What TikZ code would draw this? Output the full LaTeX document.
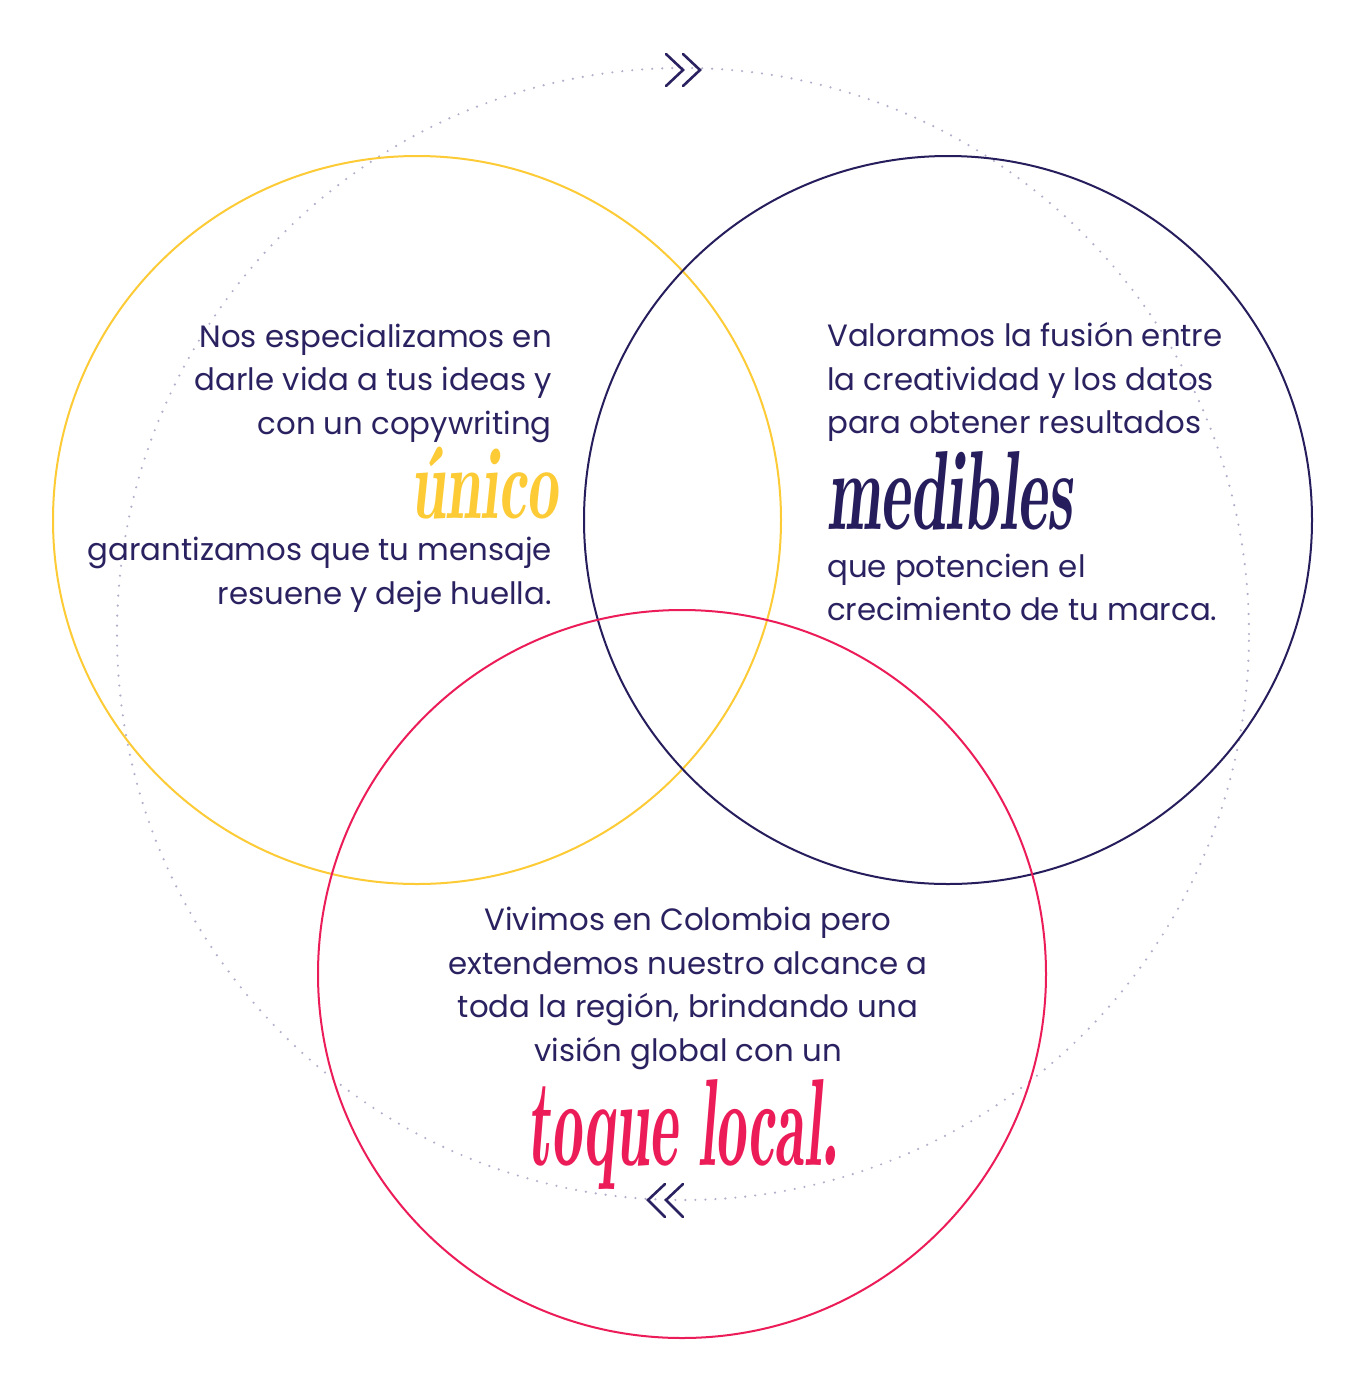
\documentclass[tikz,border=0pt]{standalone}
\usepackage{fontspec}
\usepackage{graphicx}
\newfontfamily\bodyfont{Poppins}
\definecolor{ink}{HTML}{2A2260}
\definecolor{navy}{HTML}{261D5C}
\definecolor{sun}{HTML}{FDCB36}
\definecolor{rose}{HTML}{EC1C58}
\definecolor{dotc}{HTML}{B2AECB}
\newcommand{\brush}[1]{{\fontfamily{lmr}\fontseries{b}\fontshape{it}\selectfont #1}}
\begin{document}
\begin{tikzpicture}[x=1pt,y=-1pt]
\tikzset{
  ring/.style={circle, draw, line width=2pt, minimum size=728pt, inner sep=0pt},
  bodytext/.style={font=\bodyfont\fontsize{30.8}{36}\selectfont, text=ink, inner sep=0pt},
  chev/.style={draw=ink, line width=2.6pt, line cap=round, line join=miter},
  orbitstyle/.style={circle, draw=dotc, line width=2.4pt, dash pattern=on 0pt off 10pt, line cap=round, minimum size=1132pt, inner sep=0pt}
}
\useasboundingbox (0,0) rectangle (1361,1379);
\fill[white] (0,0) rectangle (1361,1379);

\node[orbitstyle] (orbit) at (683,634) {};

\node[ring, draw=sun]  (yel)  at (417,520) {};
\node[ring, draw=navy] (nav)  at (948,520) {};
\node[ring, draw=rose] (pnk)  at (682,974) {};

% chevrons
\draw[chev] (666,54) -- (683,70) -- (666,86);
\draw[chev] (683,54) -- (700,70) -- (683,86);
\draw[chev] (665,1184) -- (648,1200) -- (665,1217);
\draw[chev] (683,1184) -- (666,1200) -- (683,1217);

% left block
\node[bodytext, anchor=base east] (l1) at (552,347) {Nos especializamos en};
\node[bodytext, anchor=base east] (l2) at (552,390) {darle vida a tus ideas y};
\node[bodytext, anchor=base east] (l3) at (552,434) {con un copywriting};
\node[inner sep=0pt, text=sun, anchor=base west] (unico) at (410,518) {\resizebox*{148pt}{72pt}{\brush{único}}};
\node[bodytext, anchor=base east] (l4) at (552,560) {garantizamos que tu mensaje};
\node[bodytext, anchor=base east] (l5) at (552,604) {resuene y deje huella.};

% right block
\node[bodytext, anchor=base west] (r1) at (827,346) {Valoramos la fusión entre};
\node[bodytext, anchor=base west] (r2) at (827,390) {la creatividad y los datos};
\node[bodytext, anchor=base west] (r3) at (827,433) {para obtener resultados};
\node[inner sep=0pt, text=navy, anchor=base west] (medibles) at (827,529) {\resizebox{245pt}{78pt}{\brush{medibles}}};
\node[bodytext, anchor=base west] (r4) at (827,577) {que potencien el};
\node[bodytext, anchor=base west] (r5) at (827,620) {crecimiento de tu marca.};

% bottom block
\node[bodytext, anchor=base] (b1) at (688,930) {Vivimos en Colombia pero};
\node[bodytext, anchor=base] (b2) at (688,974) {extendemos nuestro alcance a};
\node[bodytext, anchor=base] (b3) at (688,1017) {toda la región, brindando una};
\node[bodytext, anchor=base] (b4) at (688,1061) {visión global con un};
\node[inner sep=0pt, text=rose, anchor=base west] (toque) at (527,1165) {\resizebox{311pt}{86pt}{\brush{toque local.}}};
\end{tikzpicture}
\end{document}
